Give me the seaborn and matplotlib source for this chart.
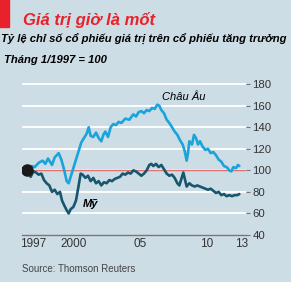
import numpy as np
import pandas as pd
import matplotlib
matplotlib.use("Agg")
import matplotlib.pyplot as plt
import seaborn as sns

# values (ratio of value to growth index, Jan 1997 = 100)
eu_years = [1997.0, 1997.2, 1997.4, 1997.6, 1997.9, 1998.2, 1998.4, 1998.6, 1998.9,
            1999.1, 1999.4, 1999.6, 1999.8, 2000.0, 2000.15, 2000.4, 2000.7, 2000.9,
            2001.1, 2001.3, 2001.5, 2001.65, 2001.8, 2002.0, 2002.2, 2002.4, 2002.6,
            2002.75, 2002.9, 2003.1, 2003.3, 2003.5, 2003.7, 2003.9, 2004.1, 2004.4,
            2004.7, 2005.0, 2005.2, 2005.4, 2005.6, 2005.8, 2006.0, 2006.2, 2006.4,
            2006.6, 2006.8, 2006.95, 2007.1, 2007.3, 2007.5, 2007.7, 2007.9, 2008.1,
            2008.3, 2008.5, 2008.7, 2008.85, 2009.0, 2009.1, 2009.2, 2009.4, 2009.55,
            2009.7, 2009.85, 2010.0, 2010.2, 2010.4, 2010.6, 2010.8, 2011.0, 2011.2,
            2011.4, 2011.6, 2011.8, 2012.0, 2012.2, 2012.35, 2012.5, 2012.7, 2012.85,
            2012.95]
eu_values = [100, 102, 104, 103, 107, 109, 106, 111, 105,
             112, 116, 110, 101, 90, 88, 98, 110, 118,
             126, 130, 134, 140, 132, 131, 135, 130, 127,
             133, 136, 131, 140, 143, 142, 145, 144, 148,
             147, 152, 150, 154, 155, 153, 156, 155, 158,
             157, 161, 160, 156, 153, 147, 144, 140, 136,
             133, 128, 124, 118, 109, 116, 127, 124, 133,
             130, 124, 127, 122, 119, 120, 116, 117, 114,
             110, 108, 104, 103, 100, 99, 103, 102, 105,
             104]

us_years = [1997.0, 1997.15, 1997.3, 1997.5, 1997.7, 1997.9, 1998.1, 1998.3, 1998.5,
            1998.7, 1998.9, 1999.1, 1999.3, 1999.5, 1999.65, 1999.8, 2000.0, 2000.15,
            2000.3, 2000.5, 2000.7, 2000.9, 2001.05, 2001.2, 2001.4, 2001.6, 2001.8,
            2002.0, 2002.2, 2002.4, 2002.6, 2002.8, 2003.0, 2003.2, 2003.4, 2003.6,
            2003.8, 2004.0, 2004.2, 2004.4, 2004.6, 2004.8, 2005.0, 2005.2, 2005.4,
            2005.6, 2005.8, 2006.0, 2006.2, 2006.35, 2006.5, 2006.7, 2006.9, 2007.1,
            2007.3, 2007.5, 2007.7, 2007.9, 2008.1, 2008.3, 2008.45, 2008.6, 2008.75,
            2008.9, 2009.0, 2009.2, 2009.4, 2009.6, 2009.8, 2010.0, 2010.2, 2010.4,
            2010.6, 2010.8, 2011.0, 2011.2, 2011.4, 2011.6, 2011.8, 2012.0, 2012.2,
            2012.4, 2012.6, 2012.8, 2012.95]
us_values = [100, 97, 94, 99, 98, 96, 97, 91, 88,
             86, 80, 82, 78, 80, 72, 68, 63, 60,
             64, 66, 72, 86, 97, 96, 93, 95, 90,
             93, 88, 90, 86, 89, 88, 91, 90, 92,
             93, 94, 97, 96, 98, 97, 100, 99, 97,
             95, 97, 100, 105, 106, 104, 106, 103, 105,
             101, 97, 95, 96, 93, 88, 86, 92, 98,
             90, 85, 88, 86, 85, 86, 85, 84, 83,
             82, 83, 81, 79, 80, 77, 78, 76, 77,
             76, 77, 77, 78]

y_ticks = [40, 60, 80, 100, 120, 140, 160, 180]
x_labels = ["1997", "2000", "05", "10", "13"]
x_label_pos = [1997.5, 2000.5, 2005.5, 2010.5, 2013.15]

bg = "#cddde6"
eu_color = "#1ba3dc"
us_color = "#17566d"
sans = ["Liberation Sans", "DejaVu Sans"]
narrow = ["Liberation Sans Narrow", "Liberation Sans", "DejaVu Sans"]

df = pd.concat([
    pd.DataFrame({"year": eu_years, "value": eu_values, "region": "Châu Âu"}),
    pd.DataFrame({"year": us_years, "value": us_values, "region": "Mỹ"}),
])

sns.set_style("white")
plt.rcParams["font.family"] = sans

fig = plt.figure(figsize=(2.91, 2.82), dpi=100, facecolor=bg)
ax = fig.add_axes([22 / 291, 1 - 235 / 282, 224 / 291, (235 - 82) / 282])
ax.set_facecolor(bg)

ax.set_xlim(1996.65, 2013.45)
ax.set_ylim(40, 182)

# gridlines
for v in y_ticks[1:]:
    ax.axhline(v, color="white", lw=1.3, zorder=1)
ax.axhline(100, color="#e07070", lw=1.0, zorder=2)

sns.lineplot(data=df, x="year", y="value", hue="region",
             palette={"Châu Âu": eu_color, "Mỹ": us_color},
             lw=1.9, legend=False, ax=ax, zorder=3)
ax.plot([1997.0], [100], "o", color="#1a1a1a", ms=8, zorder=4)

for s in ["top", "left", "right"]:
    ax.spines[s].set_visible(False)
ax.spines["bottom"].set_color("#777777")
ax.spines["bottom"].set_linewidth(1.0)

# yearly ticks, taller at 2000 / 2005 / 2010
ax.set_xticks([2000, 2005, 2010])
ax.set_xticklabels([])
ax.tick_params(axis="x", which="major", direction="in", length=5, width=0.8,
               color="#777777")
ax.set_xticks([y for y in range(1997, 2014) if y not in (2000, 2005, 2010)], minor=True)
ax.tick_params(axis="x", which="minor", direction="in", length=3, width=0.8,
               color="#777777", labelbottom=False)
for pos, lab in zip(x_label_pos, x_labels):
    ax.text(pos, 31.5, lab, fontsize=8.5, color="#333333", ha="center", va="center",
            family=narrow)

ax.yaxis.tick_right()
ax.set_yticks(y_ticks)
ax.set_yticklabels([str(v) for v in y_ticks], family=narrow)
ax.tick_params(axis="y", length=3, width=0.8, color="#777777", pad=1.5,
               labelsize=8.2, labelcolor="#333333")
ax.set_xlabel("")
ax.set_ylabel("")

ax.text(2008.8, 165, "Châu Âu", fontsize=8, style="italic", color="black",
        ha="center", va="baseline")
ax.text(2001.2, 69, "Mỹ", fontsize=8, style="italic", weight="bold", color="black",
        ha="left", va="center")

# titles
fig.patches.append(plt.Rectangle((0, 1 - 27 / 282), 9 / 291, 27 / 282,
                                 transform=fig.transFigure, color="#e8212a"))
fig.text(23 / 291, 1 - 25 / 282, "Giá trị giờ là mốt", fontsize=12, weight="bold",
         style="italic", color="#e8212a", ha="left", va="baseline")
fig.text(1 / 291, 1 - 43 / 282, "Tỷ lệ chỉ số cổ phiếu giá trị trên cổ phiếu tăng trưởng",
         fontsize=8.1, weight="bold", style="italic", color="black",
         ha="left", va="baseline")
fig.text(4 / 291, 1 - 63 / 282, "Tháng 1/1997 = 100", fontsize=8.1, weight="bold",
         style="italic", color="black", ha="left", va="baseline")
fig.text(22 / 291, 1 - 272 / 282, "Source: Thomson Reuters", fontsize=7,
         color="#444444", ha="left", va="baseline", family=narrow)

fig.savefig("out.png", dpi=100, facecolor=bg)
